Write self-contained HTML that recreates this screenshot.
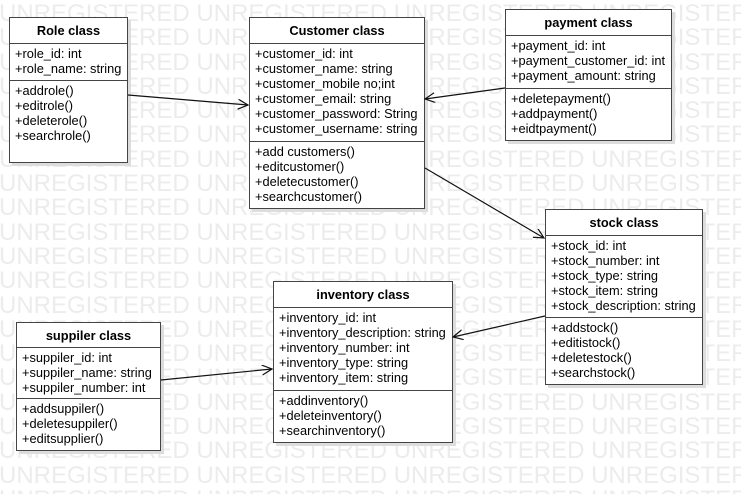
<!DOCTYPE html>
<html><head><meta charset="utf-8"><style>
body{margin:0;width:742px;height:492px;background:#fff;position:relative;overflow:hidden;font-family:"Liberation Sans",sans-serif}
.wm{position:absolute;left:-1px;top:2px;width:742px;height:492px;overflow:hidden;color:#ececec;font-size:24px;line-height:24.3px;white-space:pre}
.box{position:absolute;background:#fff;border:1.5px solid #444;box-shadow:3px 3px 0 #ddd;font-size:12.8px;line-height:15px;box-sizing:border-box}
.h{font-weight:bold;text-align:center;border-bottom:1.5px solid #444;box-sizing:border-box;display:flex;align-items:center;justify-content:center}
.s{padding:2px 5px;border-bottom:1.5px solid #444;box-sizing:border-box;white-space:nowrap}
.s:last-child{border-bottom:none}
svg{position:absolute;left:0;top:0}
</style></head><body>
<div class="wm">UNREGISTERED UNREGISTERED UNREGISTERED UNREGISTERED
UNREGISTERED UNREGISTERED UNREGISTERED UNREGISTERED
UNREGISTERED UNREGISTERED UNREGISTERED UNREGISTERED
UNREGISTERED UNREGISTERED UNREGISTERED UNREGISTERED
UNREGISTERED UNREGISTERED UNREGISTERED UNREGISTERED
UNREGISTERED UNREGISTERED UNREGISTERED UNREGISTERED
UNREGISTERED UNREGISTERED UNREGISTERED UNREGISTERED
UNREGISTERED UNREGISTERED UNREGISTERED UNREGISTERED
UNREGISTERED UNREGISTERED UNREGISTERED UNREGISTERED
UNREGISTERED UNREGISTERED UNREGISTERED UNREGISTERED
UNREGISTERED UNREGISTERED UNREGISTERED UNREGISTERED
UNREGISTERED UNREGISTERED UNREGISTERED UNREGISTERED
UNREGISTERED UNREGISTERED UNREGISTERED UNREGISTERED
UNREGISTERED UNREGISTERED UNREGISTERED UNREGISTERED
UNREGISTERED UNREGISTERED UNREGISTERED UNREGISTERED
UNREGISTERED UNREGISTERED UNREGISTERED UNREGISTERED
UNREGISTERED UNREGISTERED UNREGISTERED UNREGISTERED
UNREGISTERED UNREGISTERED UNREGISTERED UNREGISTERED
UNREGISTERED UNREGISTERED UNREGISTERED UNREGISTERED
UNREGISTERED UNREGISTERED UNREGISTERED UNREGISTERED
UNREGISTERED UNREGISTERED UNREGISTERED UNREGISTERED</div>

<div class="box" style="left:9px;top:17px;width:119px;height:146px">
<div class="h" style="height:26px">Role class</div>
<div class="s" style="height:37px">+role_id: int<br>+role_name: string</div>
<div class="s">+addrole()<br>+editrole()<br>+deleterole()<br>+searchrole()</div></div>

<div class="box" style="left:249px;top:17px;width:176px;height:192px">
<div class="h" style="height:26px">Customer class</div>
<div class="s" style="height:98px">+customer_id: int<br>+customer_name: string<br>+customer_mobile no;int<br>+customer_email: string<br>+customer_password: String<br>+customer_username: string</div>
<div class="s">+add customers()<br>+editcustomer()<br>+deletecustomer()<br>+searchcustomer()</div></div>

<div class="box" style="left:505px;top:9px;width:167px;height:132px">
<div class="h" style="height:26px">payment class</div>
<div class="s" style="height:53px">+payment_id: int<br>+payment_customer_id: int<br>+payment_amount: string</div>
<div class="s">+deletepayment()<br>+addpayment()<br>+eidtpayment()</div></div>

<div class="box" style="left:545px;top:209px;width:158px;height:176px">
<div class="h" style="height:26px">stock class</div>
<div class="s" style="height:82px">+stock_id: int<br>+stock_number: int<br>+stock_type: string<br>+stock_item: string<br>+stock_description: string</div>
<div class="s">+addstock()<br>+editistock()<br>+deletestock()<br>+searchstock()</div></div>

<div class="box" style="left:273px;top:281px;width:180px;height:162px">
<div class="h" style="height:26px">inventory class</div>
<div class="s" style="height:83px">+inventory_id: int<br>+inventory_description: string<br>+inventory_number: int<br>+inventory_type: string<br>+inventory_item: string</div>
<div class="s">+addinventory()<br>+deleteinventory()<br>+searchinventory()</div></div>

<div class="box" style="left:16px;top:322px;width:145px;height:129px">
<div class="h" style="height:25px">suppiler class</div>
<div class="s" style="height:51px">+suppiler_id: int<br>+suppiler_name: string<br>+suppiler_number: int</div>
<div class="s">+addsuppiler()<br>+deletesuppiler()<br>+editsupplier()</div></div>

<svg width="742" height="492" fill="none" stroke="#111" stroke-width="1.2">
<defs><marker id="a" markerWidth="12" markerHeight="12" refX="10" refY="5" orient="auto" markerUnits="userSpaceOnUse"><path d="M0,0 L10,5 L0,10" fill="none" stroke="#111" stroke-width="1.2"/></marker></defs>
<line x1="128" y1="95" x2="248" y2="105" marker-end="url(#a)"/>
<line x1="505" y1="88" x2="425" y2="99" marker-end="url(#a)"/>
<line x1="425" y1="168" x2="544" y2="238" marker-end="url(#a)"/>
<line x1="545" y1="316" x2="453" y2="337" marker-end="url(#a)"/>
<line x1="161" y1="380" x2="272" y2="369" marker-end="url(#a)"/>
</svg>
</body></html>
